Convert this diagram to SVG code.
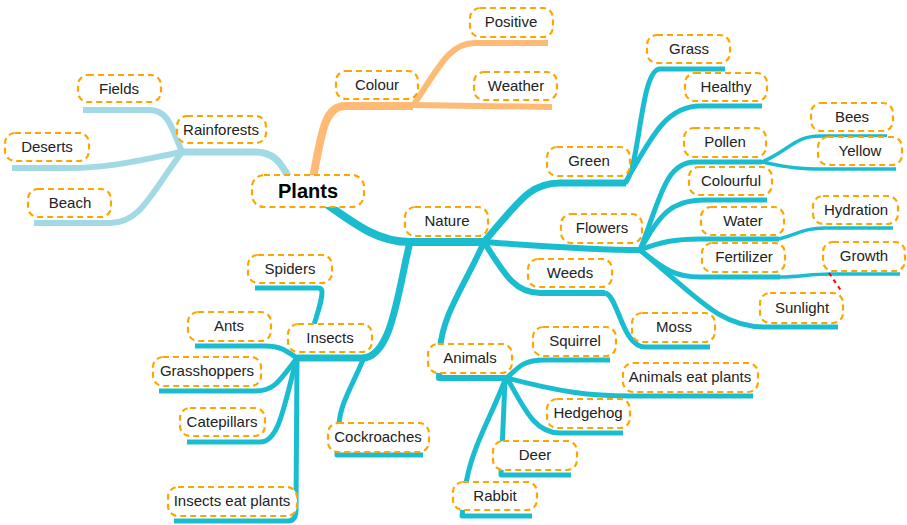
<svg xmlns="http://www.w3.org/2000/svg" width="907" height="525" viewBox="0 0 907 525">
<style>
.n rect{fill:#fff;stroke:#FFA500;stroke-width:2.2;stroke-dasharray:6 4}
.n text{font-family:"Liberation Sans",Arial,sans-serif;font-size:15px;fill:#222;text-anchor:middle}
#n-plants text{font-size:20px;font-weight:bold;fill:#000}
.c path{fill:none;stroke-linecap:butt;stroke-linejoin:round}
.lb{stroke:#A1DAE5}
.or{stroke:#FFBA75}
.tl{stroke:#1ABDD0}
</style>
<rect width="907" height="525" fill="#fff"/>
<g id="connectors" class="c">
<path class="lb" stroke-width="7" d="M290 180 C280 160 272 152 255 152 L182 152"/>
<path class="lb" stroke-width="6" d="M182 152 C172 128 168 110 150 110 L83 110"/>
<path class="lb" stroke-width="6" d="M182 152 C140 160 110 168 70 168 L12 168"/>
<path class="lb" stroke-width="6" d="M182 152 C150 195 140 223 110 223 L34 223"/>
<path class="or" stroke-width="8" d="M313 178 C322 130 325 106 345 106 L413 106"/>
<path class="or" stroke-width="6" d="M413 106 C440 65 450 43 475 43 L548 43"/>
<path class="or" stroke-width="6" d="M413 105 L552 107"/>
<path class="tl" stroke-width="8" d="M325 203 C360 228 380 242 410 242 L484 242"/>
<path class="tl" stroke-width="7" d="M484 242 C520 200 530 183 560 183 L626 183"/>
<path class="tl" stroke-width="5" d="M625 183 C640 170 640 69 660 69 L725 69"/>
<path class="tl" stroke-width="5" d="M625 183 C650 140 665 106 700 106 L762 106"/>
<path class="tl" stroke-width="6" d="M484 242 C540 246 590 250 641 250"/>
<path class="tl" stroke-width="5" d="M640 250 C660 200 665 162 695 162 L762 162"/>
<path class="tl" stroke-width="3.5" d="M762 162 C790 150 795 136 820 136 L887 136"/>
<path class="tl" stroke-width="3.5" d="M762 162 C790 168 800 169 825 169 L896 169"/>
<path class="tl" stroke-width="5" d="M640 250 C660 215 670 200 705 200 L767 200"/>
<path class="tl" stroke-width="5" d="M640 250 C660 242 675 239 700 239 L779 239"/>
<path class="tl" stroke-width="3.5" d="M779 239 C800 233 805 228 825 228 L893 228"/>
<path class="tl" stroke-width="5" d="M640 250 C665 270 675 277 700 277 L780 277"/>
<path class="tl" stroke-width="3.5" d="M780 277 C800 277 810 274 830 274 L900 274"/>
<path class="tl" stroke-width="5" d="M640 250 C700 300 720 327 765 327 L838 327"/>
<path class="tl" stroke-width="6" d="M484 242 C505 275 515 293 540 293 L605 293"/>
<path class="tl" stroke-width="5" d="M605 293 C618 295 622 347 645 347 L710 347"/>
<path class="tl" stroke-width="6" d="M484 242 C465 285 442 315 440 350 L439 378 L507 378"/>
<path class="tl" stroke-width="5" d="M507 378 C520 365 525 360 545 360 L610 360"/>
<path class="tl" stroke-width="5" d="M507 378 C560 392 590 396 630 396 L753 396"/>
<path class="tl" stroke-width="5" d="M507 378 C525 410 535 433 560 433 L623 433"/>
<path class="tl" stroke-width="5" d="M505 380 L501 475 L571 475"/>
<path class="tl" stroke-width="5" d="M505 380 C490 420 470 450 465 490 L462 516 L532 516"/>
<path class="tl" stroke-width="7" d="M410 242 C398 290 392 358 362 358 L297 358"/>
<path class="tl" stroke-width="5" d="M313 328 C320 305 322 300 322 292 Q322 288 318 288 L255 288"/>
<path class="tl" stroke-width="5" d="M297 358 C285 350 280 346 265 346 L195 346"/>
<path class="tl" stroke-width="5" d="M297 358 C280 380 275 391 255 391 L159 391"/>
<path class="tl" stroke-width="5" d="M297 358 C285 400 280 442 260 442 L187 442"/>
<path class="tl" stroke-width="5" d="M297 358 L296 510 Q296 521 288 521 L174 521"/>
<path class="tl" stroke-width="5" d="M363 360 C350 390 340 405 339 425 L337 455 L423 455"/>
<path stroke="#FF0000" stroke-width="2" stroke-dasharray="4 4" d="M829 273 L842 292"/>
</g>
<g id="n-plants" class="n"><rect x="252" y="175" width="112" height="32" rx="12"/><text x="308" y="198">Plants</text></g>
<g id="n-rainforests" class="n"><rect x="177" y="116" width="89" height="27" rx="10"/><text x="221" y="135">Rainforests</text></g>
<g id="n-fields" class="n"><rect x="78" y="75" width="83" height="27" rx="10"/><text x="119" y="94">Fields</text></g>
<g id="n-deserts" class="n"><rect x="5" y="133" width="84" height="28" rx="10"/><text x="47" y="152">Deserts</text></g>
<g id="n-beach" class="n"><rect x="28" y="189" width="83" height="28" rx="10"/><text x="70" y="208">Beach</text></g>
<g id="n-colour" class="n"><rect x="336" y="71" width="82" height="28" rx="10"/><text x="377" y="90">Colour</text></g>
<g id="n-positive" class="n"><rect x="470" y="8" width="83" height="29" rx="10"/><text x="511" y="27">Positive</text></g>
<g id="n-weather" class="n"><rect x="474" y="72" width="83" height="28" rx="10"/><text x="516" y="91">Weather</text></g>
<g id="n-nature" class="n"><rect x="405" y="207" width="83" height="29" rx="10"/><text x="447" y="226">Nature</text></g>
<g id="n-green" class="n"><rect x="547" y="147" width="83" height="29" rx="10"/><text x="589" y="166">Green</text></g>
<g id="n-grass" class="n"><rect x="647" y="35" width="83" height="28" rx="10"/><text x="689" y="54">Grass</text></g>
<g id="n-healthy" class="n"><rect x="685" y="73" width="82" height="28" rx="10"/><text x="726" y="92">Healthy</text></g>
<g id="n-flowers" class="n"><rect x="561" y="214" width="81" height="29" rx="10"/><text x="602" y="233">Flowers</text></g>
<g id="n-pollen" class="n"><rect x="684" y="128" width="82" height="29" rx="10"/><text x="725" y="147">Pollen</text></g>
<g id="n-bees" class="n"><rect x="811" y="103" width="82" height="28" rx="10"/><text x="852" y="122">Bees</text></g>
<g id="n-yellow" class="n"><rect x="818" y="137" width="84" height="28" rx="10"/><text x="860" y="156">Yellow</text></g>
<g id="n-colourful" class="n"><rect x="689" y="167" width="83" height="28" rx="10"/><text x="731" y="186">Colourful</text></g>
<g id="n-water" class="n"><rect x="701" y="207" width="83" height="28" rx="10"/><text x="743" y="226">Water</text></g>
<g id="n-hydration" class="n"><rect x="813" y="196" width="85" height="28" rx="10"/><text x="856" y="215">Hydration</text></g>
<g id="n-fertilizer" class="n"><rect x="702" y="243" width="83" height="29" rx="10"/><text x="744" y="262">Fertilizer</text></g>
<g id="n-growth" class="n"><rect x="823" y="242" width="82" height="29" rx="10"/><text x="864" y="261">Growth</text></g>
<g id="n-sunlight" class="n"><rect x="760" y="293" width="83" height="30" rx="10"/><text x="802" y="313">Sunlight</text></g>
<g id="n-weeds" class="n"><rect x="528" y="259" width="84" height="28" rx="10"/><text x="570" y="278">Weeds</text></g>
<g id="n-moss" class="n"><rect x="632" y="313" width="83" height="29" rx="10"/><text x="674" y="332">Moss</text></g>
<g id="n-animals" class="n"><rect x="428" y="344" width="84" height="29" rx="10"/><text x="470" y="363">Animals</text></g>
<g id="n-squirrel" class="n"><rect x="533" y="327" width="83" height="29" rx="10"/><text x="575" y="346">Squirrel</text></g>
<g id="n-animals-eat" class="n"><rect x="623" y="363" width="135" height="29" rx="10"/><text x="690" y="382">Animals eat plants</text></g>
<g id="n-hedgehog" class="n"><rect x="547" y="399" width="83" height="29" rx="10"/><text x="588" y="418">Hedgehog</text></g>
<g id="n-deer" class="n"><rect x="493" y="441" width="84" height="29" rx="10"/><text x="535" y="460">Deer</text></g>
<g id="n-rabbit" class="n"><rect x="453" y="482" width="84" height="28" rx="10"/><text x="495" y="501">Rabbit</text></g>
<g id="n-insects" class="n"><rect x="288" y="324" width="84" height="28" rx="10"/><text x="330" y="343">Insects</text></g>
<g id="n-spiders" class="n"><rect x="248" y="255" width="84" height="28" rx="10"/><text x="290" y="274">Spiders</text></g>
<g id="n-ants" class="n"><rect x="188" y="312" width="83" height="29" rx="10"/><text x="229" y="331">Ants</text></g>
<g id="n-grasshoppers" class="n"><rect x="153" y="357" width="108" height="29" rx="10"/><text x="207" y="376">Grasshoppers</text></g>
<g id="n-catepillars" class="n"><rect x="180" y="408" width="85" height="28" rx="10"/><text x="222" y="427">Catepillars</text></g>
<g id="n-insects-eat" class="n"><rect x="168" y="487" width="129" height="29" rx="10"/><text x="232" y="506">Insects eat plants</text></g>
<g id="n-cockroaches" class="n"><rect x="328" y="423" width="101" height="29" rx="10"/><text x="378" y="442">Cockroaches</text></g>
</svg>
